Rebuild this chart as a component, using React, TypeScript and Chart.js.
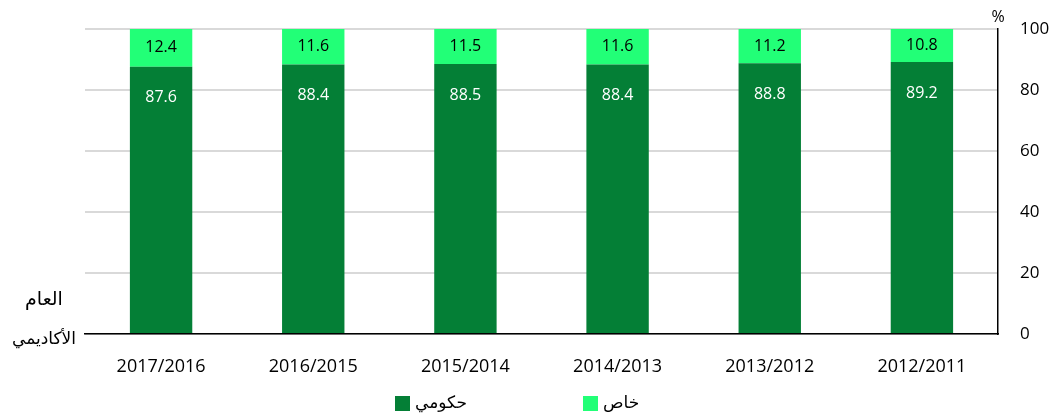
import React, { useEffect, useRef } from "react";
import { Chart, registerables } from "chart.js";

Chart.register(...registerables);

const categories = ["2017/2016", "2016/2015", "2015/2014", "2014/2013", "2013/2012", "2012/2011"];
const governmentValues = [87.6, 88.4, 88.5, 88.4, 88.8, 89.2];
const privateValues = [12.4, 11.6, 11.5, 11.6, 11.2, 10.8];
const seriesLabels = ["حكومي", "خاص"];
const axisTitleLines = ["العام", "الأكاديمي"];
const unitLabel = "%";

const DARK = "#047F36";
const LIGHT = "#22FF77";
const FONT = "'Open Sans', 'DejaVu Sans', sans-serif";

const overlayPlugin = {
  id: "overlay",
  afterDatasetsDraw(chart: any) {
    const ctx = chart.ctx;
    ctx.save();
    ctx.font = `16px ${FONT}`;
    ctx.textAlign = "center";
    ctx.textBaseline = "middle";
    chart.data.datasets.forEach((ds: any, di: number) => {
      const meta = chart.getDatasetMeta(di);
      meta.data.forEach((bar: any, i: number) => {
        const v = ds.data[i];
        const top = Math.min(bar.y, bar.base);
        const bottom = Math.max(bar.y, bar.base);
        let y;
        if (di === 0) {
          ctx.fillStyle = "#ffffff";
          y = top + 31;
        } else {
          ctx.fillStyle = "#000000";
          y = (top + bottom) / 2;
        }
        ctx.fillText(v.toFixed(1), bar.x, y);
      });
    });
    ctx.restore();
  },
  afterDraw(chart: any) {
    const ctx = chart.ctx;
    const area = chart.chartArea;
    ctx.save();
    ctx.fillStyle = "#000";
    ctx.textBaseline = "middle";
    ctx.font = `16px ${FONT}`;
    ctx.textAlign = "center";
    ctx.fillText(unitLabel, area.right, area.top - 12);
    ctx.direction = "rtl";
    ctx.textAlign = "center";
    ctx.font = `19px ${FONT}`;
    ctx.fillText(axisTitleLines[0], 44, 300);
    ctx.font = `17px ${FONT}`;
    ctx.fillText(axisTitleLines[1], 44, 339);
    const colors = [DARK, LIGHT];
    const boxX = [395, 583];
    const legendY = 403;
    ctx.font = `17px ${FONT}`;
    ctx.direction = "ltr";
    ctx.textAlign = "left";
    seriesLabels.forEach((lab, i) => {
      ctx.fillStyle = colors[i];
      ctx.fillRect(boxX[i], legendY - 7, 15, 15);
      ctx.fillStyle = "#000";
      ctx.fillText(lab, boxX[i] + 20, legendY);
    });
    ctx.restore();
  },
};

export default function App() {
  const ref = useRef<HTMLCanvasElement>(null);
  useEffect(() => {
    document.body.style.margin = "0";
    const chart = new Chart(ref.current as HTMLCanvasElement, {
      type: "bar",
      data: {
        labels: categories,
        datasets: [
          {
            label: seriesLabels[0],
            data: governmentValues,
            backgroundColor: DARK,
            barPercentage: 0.41,
            categoryPercentage: 1,
          },
          {
            label: seriesLabels[1],
            data: privateValues,
            backgroundColor: LIGHT,
            barPercentage: 0.41,
            categoryPercentage: 1,
          },
        ],
      },
      options: {
        animation: false,
        responsive: true,
        maintainAspectRatio: false,
        layout: { padding: { left: 85, top: 29, right: 0, bottom: 32 } },
        plugins: {
          legend: { display: false },
          tooltip: { enabled: false },
        },
        scales: {
          x: {
            stacked: true,
            grid: { display: false, drawTicks: false },
            border: { display: true, color: "#000", width: 1.5 },
            ticks: { color: "#000", font: { family: FONT, size: 18 }, padding: 22 },
            afterFit: (s: any) => {
              s.height = 50;
            },
          },
          y: {
            stacked: true,
            position: "right",
            min: 0,
            max: 100,
            grid: {
              color: "#d9d9d9",
              lineWidth: 2,
              drawTicks: true,
              tickLength: 19,
              tickColor: "rgba(0,0,0,0)",
            },
            border: { display: true, color: "#000", width: 1.5 },
            ticks: { stepSize: 20, color: "#000", font: { family: FONT, size: 17 }, padding: 3 },
            afterFit: (s: any) => {
              s.width = 59;
            },
          },
        },
      },
      plugins: [overlayPlugin],
    });
    return () => chart.destroy();
  }, []);
  return (
    <div style={{ position: "relative", width: 1057, height: 416 }}>
      <canvas ref={ref} />
    </div>
  );
}
